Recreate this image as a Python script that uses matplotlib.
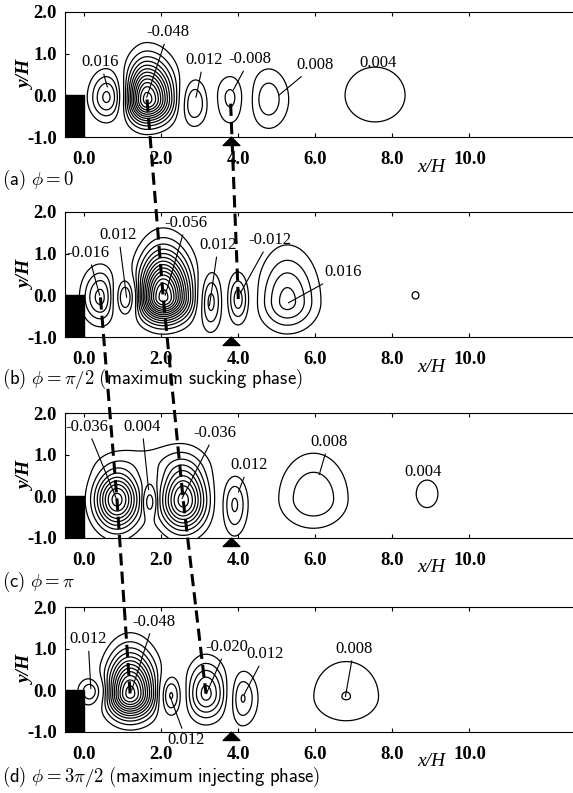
import numpy as np
import matplotlib
matplotlib.use('Agg')
import matplotlib.pyplot as plt
from matplotlib.patches import Rectangle
from matplotlib.lines import Line2D
from matplotlib.path import Path

plt.rcParams['font.family'] = ['Liberation Serif', 'DejaVu Serif']
plt.rcParams['mathtext.fontset'] = 'cm'
plt.rcParams['contour.negative_linestyle'] = 'solid'

# vortex structures read off each phase:
# x/H, y/H, peak, width left, width right, height above, height below
vort_a = [(0.60, -0.05, 0.0175, 0.43, 0.43, 0.58, 0.51),
          (1.63, -0.10, -0.050, 0.49, 0.62, 0.86, 0.53),
          (2.84, -0.20, 0.0128, 0.36, 0.36, 0.57, 0.52),
          (3.80, -0.05, -0.0092, 0.41, 0.41, 0.56, 0.68),
          (4.78, -0.10, 0.0105, 0.51, 0.51, 0.74, 0.70),
          (7.55, 0.00, 0.0055, 1.38, 1.38, 1.20, 1.13)]
vort_b = [(0.42, -0.05, -0.0175, 0.45, 0.37, 0.66, 0.58),
          (1.10, -0.05, 0.0160, 0.30, 0.30, 0.45, 0.42),
          (2.05, -0.05, -0.058, 0.58, 0.64, 1.02, 0.54),
          (3.27, -0.15, 0.0145, 0.30, 0.30, 0.67, 0.66),
          (4.00, -0.10, -0.0145, 0.28, 0.28, 0.60, 0.55),
          (5.27, -0.15, 0.0175, 0.67, 0.72, 1.12, 0.64),
          (8.60, 0.00, 0.0042, 0.40, 0.40, 0.40, 0.40)]
vort_c = [(0.85, -0.08, -0.038, 0.55, 0.55, 0.64, 0.66),
          (1.70, -0.13, 0.0150, 0.16, 0.16, 0.30, 0.30),
          (2.57, -0.10, -0.038, 0.57, 0.57, 0.82, 0.67),
          (1.70, 0.85, -0.0045, 1.50, 1.50, 0.50, 0.40),
          (3.90, -0.20, 0.0128, 0.32, 0.32, 0.65, 0.70),
          (5.95, -0.06, 0.0114, 0.88, 0.88, 1.07, 0.69),
          (8.90, 0.06, 0.0047, 0.70, 0.70, 0.82, 0.82)]
vort_d = [(0.18, -0.03, 0.0125, 0.33, 0.40, 0.33, 0.34),
          (1.19, -0.08, -0.050, 0.56, 0.60, 0.92, 0.55),
          (2.23, -0.12, 0.0150, 0.30, 0.30, 0.46, 0.46),
          (3.16, -0.08, -0.0215, 0.46, 0.50, 0.73, 0.58),
          (4.10, -0.19, 0.0128, 0.32, 0.38, 0.62, 0.62),
          (6.80, -0.15, 0.0081, 1.00, 1.00, 1.00, 0.69)]

# contour labels: text, text x, text y, pointed x, pointed y (None = no leader)
lab_a = [('0.016', 0.42, 0.80, 0.60, 0.20),
         ('-0.048', 2.18, 1.52, 1.62, -0.05),
         ('0.012', 3.10, 0.85, 2.90, -0.05),
         ('-0.008', 4.30, 0.87, 3.87, 0.13),
         ('0.008', 6.00, 0.73, 5.05, 0.00),
         ('0.004', 7.64, 0.77, None, None)]
lab_b = [('-0.016', 0.10, 1.02, 0.40, 0.00),
         ('0.012', 0.89, 1.45, 1.10, -0.05),
         ('-0.056', 2.65, 1.74, 2.10, 0.00),
         ('0.012', 3.48, 1.21, 3.25, -0.25),
         ('-0.012', 4.82, 1.33, 4.05, 0.05),
         ('0.016', 6.73, 0.55, 5.30, -0.18)]
lab_c = [('-0.036', 0.07, 1.67, 0.83, -0.05),
         ('0.004', 1.50, 1.67, 1.67, 0.16),
         ('-0.036', 3.40, 1.52, 2.54, -0.05),
         ('0.012', 4.27, 0.75, 4.00, 0.10),
         ('0.008', 6.35, 1.31, 6.10, 0.52),
         ('0.004', 8.80, 0.58, None, None)]
lab_d = [('0.012', 0.10, 1.23, 0.17, 0.04),
         ('-0.048', 1.80, 1.65, 1.23, 0.00),
         ('0.012', 2.65, -1.20, 2.23, -0.15),
         ('-0.020', 3.70, 1.04, 3.17, -0.08),
         ('0.012', 4.70, 0.87, 4.15, -0.10),
         ('0.008', 7.00, 1.00, 6.78, -0.15)]

captions = [r'$\mathsf{(a)}\ \phi = 0$',
            r'$\mathsf{(b)}\ \phi = \pi/2\ \mathsf{(maximum\ sucking\ phase)}$',
            r'$\mathsf{(c)}\ \phi = \pi$',
            r'$\mathsf{(d)}\ \phi = 3\pi/2\ \mathsf{(maximum\ injecting\ phase)}$']

# vortex tracks between phases: (panel, x/H, y/H)
track_1 = [(0, 1.63, -0.10), (1, 2.05, -0.05), (2, 2.57, -0.10), (3, 3.16, -0.08)]
track_2 = [(0, 3.80, -0.20), (1, 4.00, -0.10)]
track_3 = [(1, 0.42, -0.05), (2, 0.85, -0.08), (3, 1.19, -0.08)]

slot_x = 3.82          # suction/injection slot position
xticks = [0, 2, 4, 6, 8, 10]
yticks = [-1, 0, 1, 2]
levels = np.round(np.arange(-0.060, 0.0601, 0.004), 3)
levels = levels[levels != 0]

W, H = 573, 793
fig = plt.figure(figsize=(W/100, H/100), dpi=100)

xg = np.linspace(-0.5, 13.0, 700)
yg = np.linspace(-1.0, 2.0, 240)
X, Y = np.meshgrid(xg, yg)


def field(vort):
    f = np.zeros_like(X)
    for xc, yc, a, sxl, sxr, syu, syd in vort:
        dx = X - xc
        dy = Y - yc
        sx = np.where(dx > 0, sxr, sxl)
        sy = np.where(dy > 0, syu, syd)
        f += a*np.exp(-(dx/sx)**2 - (dy/sy)**2)
    return f


tri = Path([(-1, 0), (1, 0), (0, 1), (-1, 0)],
           [Path.MOVETO, Path.LINETO, Path.LINETO, Path.CLOSEPOLY])

tops = [12, 212, 413, 607]
cap_y = [180, 379, 582, 777]
axes = []
for i, (vort, labs) in enumerate(zip([vort_a, vort_b, vort_c, vort_d],
                                     [lab_a, lab_b, lab_c, lab_d])):
    ax = fig.add_axes([65/W, 1 - (tops[i] + 125)/H, 520/W, 125/H])
    ax.set_xlim(-0.5, 13.0)
    ax.set_ylim(-1.0, 2.0)
    ax.contour(X, Y, field(vort), levels=levels, colors='k', linewidths=0.9)
    # the step
    ax.add_patch(Rectangle((-0.5, -1.0), 0.5, 1.0, color='k', zorder=3))

    for t, tx, ty, px, py in labs:
        if px is None:
            ax.text(tx, ty, t, ha='center', va='center', fontsize=12)
        else:
            ax.annotate(t, xy=(px, py), xytext=(tx, ty), ha='center', va='center',
                        fontsize=12, annotation_clip=False,
                        arrowprops=dict(arrowstyle='-', lw=0.8, color='k',
                                        shrinkA=1, shrinkB=0))

    ax.plot([slot_x], [-1.19], marker=tri, ms=12, color='k', clip_on=False)

    ax.set_xticks(xticks)
    ax.set_xticklabels(['%.1f' % v for v in xticks], fontweight='bold')
    ax.set_yticks(yticks)
    ax.set_yticklabels(['%.1f' % v for v in yticks], fontweight='bold')
    ax.tick_params(direction='in', length=3, top=True, labelsize=13.5)
    ax.tick_params(axis='x', pad=10)
    ax.tick_params(axis='y', pad=6)
    ax.set_ylabel('y/H', fontsize=14, style='italic', fontweight='bold')
    ax.yaxis.set_label_coords(-0.058, 0.5)
    ax.text(9.0, -1.72, 'x/H', fontsize=14, style='italic', ha='center',
            va='center', clip_on=False)
    fig.text(2/W, 1 - cap_y[i]/H, captions[i], fontsize=13.5, va='center')
    axes.append(ax)

# dashed tracks of the vortices through the phases
to_fig = fig.transFigure.inverted()
for track in [track_1, track_2, track_3]:
    pts = [to_fig.transform(axes[p].transData.transform((x, y))) for p, x, y in track]
    pts = np.array(pts)
    ln = Line2D(pts[:, 0], pts[:, 1], transform=fig.transFigure, color='k',
                lw=2.2, dashes=(4, 2), zorder=10)
    fig.add_artist(ln)

plt.savefig('out.png', dpi=100)
